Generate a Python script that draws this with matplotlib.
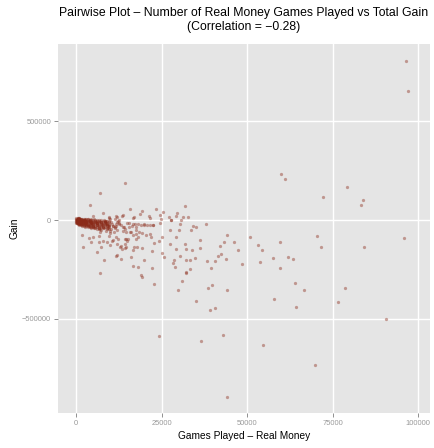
import matplotlib
matplotlib.use("Agg")
import matplotlib.pyplot as plt

plt.rcParams['font.family'] = ['Liberation Sans', 'DejaVu Sans']

# Games played (real money) and total gain per player
games = [
    100, 300, 500, 700, 900, 200, 600, 800, 400, 1000,
    1100, 1300, 1500, 1700, 1900, 2100, 2300, 1200, 1600, 2400,
    2600, 2800, 3000, 3200, 3400, 3600, 3800, 2700, 3100, 3900,
    4100, 4300, 4500, 4700, 4900, 5100, 5300, 4200, 4600, 5000, 5400,
    5600, 5800, 6000, 6200, 6400, 6600, 6800, 5700, 6100, 6900,
    7100, 7300, 7500, 7700, 7900, 8100, 8300, 7400, 8400,
    8600, 8800, 9000, 9200, 9400, 9600, 8900, 9800,
    10100, 10500, 10900, 11300, 11700, 10300, 11000, 11900,
    12200, 12700, 13200, 13700, 14200, 12500, 14600,
    8760, 9720, 10720, 11680, 14020, 15390, 16440, 17520, 15560, 16560,
    17230, 18190, 18980, 19770, 20640, 21610, 22570, 15970, 16640, 17520,
    18480, 19360, 20440, 21610, 14310, 14980, 14600, 7800, 9140, 10890,
    11590, 1660, 3710, 4880, 6630, 9550, 4380, 7390, 6800, 10510,
    11970, 14220, 16560, 12350, 14400, 15180, 17430, 18190, 21810, 13140,
    14690, 17720, 9840, 19950, 14800, 11390, 11880, 13810, 15770, 17520,
    8760, 9930, 7010, 6040,
    14400, 7100, 4000, 31830, 23360, 15860, 19360, 7880, 25490, 29490,
    13520, 18690, 5050, 27070, 31330, 32790, 11970, 9640, 21520, 24910,
    16560, 30750, 27830, 38050, 22570, 34080, 35040, 27360, 30160, 44180,
    36210, 43130, 29110, 33960, 36300, 38160, 43800, 28910, 32120, 18980,
    19360, 18190, 16730, 8090, 7010, 6220, 2130, 31830, 32030, 42140,
    42250, 41380, 30280, 28700, 32210, 33200, 34660, 40680, 39420, 33290,
    32030, 27450, 29290, 30280, 33670, 25110, 24150, 22690, 19180, 16940,
    12850, 13430, 22190, 25110, 25700, 12060, 11680, 13050, 16150, 19860,
    28240, 22280, 24530, 16940, 21400, 24620, 27740, 29200, 13810, 11680,
    9550, 9930, 11480, 12640,
    96300, 97100, 59860, 61030, 72040, 79220, 83890, 83220, 50810, 46050,
    47220, 53140, 54220, 59570, 70280, 71630, 84100, 95860, 57610, 61990,
    63450, 48470, 53820, 59570, 63950, 66490, 57820, 64330, 78640, 76420,
    90610, 54520, 69700, 22780, 30950, 29700, 38540, 39710, 44180, 35040,
    39220, 40590, 24320, 36500, 42840, 44000,
]

gain = [
    5000, -2000, -8000, 12000, 0, -12000, 3000, -5000, -15000, 8000,
    6000, -3000, -10000, -18000, 1000, -7000, -14000, -22000, 4000, -1000,
    2000, -6000, -12000, -20000, -26000, 5000, -3000, -16000, -9000, -30000,
    0, -8000, -15000, -22000, -28000, -35000, 3000, -4000, -12000, -19000, -40000,
    -2000, -10000, -17000, -24000, -31000, -38000, 2000, -6000, -14000, -45000,
    -4000, -12000, -20000, -27000, -34000, -42000, 1000, -50000, -8000,
    -6000, -15000, -24000, -32000, -40000, -48000, -3000, -55000,
    -8000, -18000, -28000, -38000, -20000, -45000, -60000, -10000,
    -5000, -15000, -25000, -35000, -48000, -20000, -62000,
    -21800, -26800, -30400, -30400, -33900, -37000, -30400, -37000, -13700, -20300,
    -21800, -21800, -23800, -20300, -23800, -26800, -26800, -60800, -74500, -70900,
    -60800, -67400, -77500, -70900, -120100, -104900, -97800, -104900, -109900, -102800,
    -86100, -76000, -89700, -86100, -81100, -81100, -113000, -138300, -113000, -106400,
    -121600, -140300, -152000, -96300, -94700, -94700, -94700, -87600, -84600, -131700,
    -135300, -136800, -126700, -26800, -16700, -37000, -50700, -54200, -59300, -50700,
    -55700, -67400, -59300, -47100,
    185900, 136800, 74500, 70900, 55700, 55700, 44100, 35500, 40500, 35500,
    21800, 28900, 20300, 16700, 13700, 15200, 15200, 8600, 8600, 6600,
    11700, -1500, -1500, -18700, -23800, -31900, -33900, -52200, -52200, -74500,
    -99800, -109900, -86100, -152000, -140300, -209200, -199100, -238100, -265000, -278600,
    -290300, -239600, -234600, -204200, -268500, -163600, -138300, -123100, -146900, -130200,
    -172200, -180900, -180900, -201100, -202600, -202600, -194000, -207700, -243200, -248200,
    -268500, -120100, -146900, -20300, -50700, -84600, -104900, -118000, -140300, -136800,
    -135300, -148400, -155500, -167200, -185900, -175800, -182400, -199100, -185900, -202600,
    -219400, -244700, -16700, 13700, 20300, 26800, 0, 21800, 26800, 18700,
    13700, 3500, 3500, 0,
    807000, 655000, 233000, 208000, 116500, 168700, 101300, 77500, -86100, -113000,
    -153500, -128200, -150500, -109900, -82600, -138300, -135300, -92700, -192500, -189000,
    -199100, -221400, -211300, -241600, -320700, -354600, -401700, -442300, -344500, -416900,
    -503100, -634800, -736100, -324200, -310500, -353100, -344500, -327800, -356100, -410300,
    -455900, -445800, -589200, -613000, -582600, -895200,
]

# Low-volume players: games played, and the gains of the players at that count
core_games = [0, 250, 500, 750, 1000, 1400, 1800, 2200, 2600, 3000, 3500,
              4000, 4500, 5000, 5500, 6000, 6600, 7200, 7800, 8400, 9000, 9700]
core_gain = [
    [10000, 2000, -4000, -9000, -13000],
    [7000, 0, -6000, -11000, -16000],
    [9000, 4000, -2000, -7000, -13000, -18000],
    [6000, 1000, -4000, -10000, -15000, -20000],
    [8000, 3000, -2000, -8000, -13000, -19000, -24000],
    [5000, 0, -5000, -11000, -16000, -21000, -27000],
    [7000, 2000, -3000, -9000, -14000, -20000, -25000, -30000],
    [4000, -1000, -7000, -12000, -18000, -23000, -29000],
    [6000, 0, -5000, -10000, -16000, -22000, -27000, -33000],
    [3000, -3000, -8000, -14000, -19000, -25000, -31000],
    [5000, -1000, -6000, -12000, -18000, -24000, -30000, -36000],
    [2000, -4000, -10000, -16000, -22000, -28000, -34000],
    [4000, -2000, -8000, -14000, -20000, -26000, -33000, -39000],
    [1000, -5000, -11000, -17000, -24000, -30000, -37000],
    [-3000, -9000, -15000, -21000, -28000, -35000, -42000],
    [0, -6000, -13000, -19000, -26000, -33000],
    [-4000, -10000, -17000, -24000, -31000, -38000, -45000],
    [-2000, -8000, -15000, -22000, -29000, -36000],
    [-5000, -12000, -19000, -27000, -34000, -42000],
    [-3000, -10000, -18000, -25000, -33000],
    [-7000, -14000, -22000, -30000, -38000, -46000],
    [-5000, -12000, -20000, -28000, -36000],
]

x_ticks = [0, 25000, 50000, 75000, 100000]
y_ticks = [-500000, 0, 500000]

all_games = list(games)
all_gain = list(gain)
for g, row in zip(core_games, core_gain):
    all_games.extend([g] * len(row))
    all_gain.extend(row)

fig = plt.figure(figsize=(4.34, 4.48), dpi=100)
fig.patch.set_facecolor('white')
ax = fig.add_axes([58 / 434, 1 - 413 / 448, 372 / 434, 369 / 448])
ax.set_facecolor('#E5E5E5')

ax.scatter(all_games, all_gain, s=5.5, color='#8B2A18', alpha=0.42,
           linewidths=0, zorder=3)

ax.set_xlim(-5260, 103400)
ax.set_ylim(-977700, 891600)
ax.set_xticks(x_ticks)
ax.set_xticklabels([str(v) for v in x_ticks])
ax.set_yticks(y_ticks)
ax.set_yticklabels([str(v).replace('-', '\u2212') for v in y_ticks])

ax.grid(True, color='white', linewidth=1.0, zorder=1)
ax.set_axisbelow(True)
for sp in ax.spines.values():
    sp.set_visible(False)
ax.tick_params(axis='both', colors='#7F7F7F', labelsize=5.4, length=3, width=0.6,
               pad=2, labelcolor='#999999')

ax.set_xlabel('Games Played \u2013 Real Money', fontsize=7.3)
ax.set_ylabel('Gain', fontsize=7.3)
ax.xaxis.set_label_coords(0.5, -0.062)
ax.yaxis.set_label_coords(-0.118, 0.5)
ax.xaxis.label.set_va('center')
ax.yaxis.label.set_va('center')

cx = 0.5 * (58 + 430) / 434
fig.text(cx, 1 - 13 / 448,
         'Pairwise Plot \u2013 Number of Real Money Games Played vs Total Gain',
         ha='center', va='center', fontsize=8.8)
fig.text(cx, 1 - 27 / 448, '(Correlation = \u22120.28)',
         ha='center', va='center', fontsize=8.8)

fig.savefig('out.png', dpi=100)
